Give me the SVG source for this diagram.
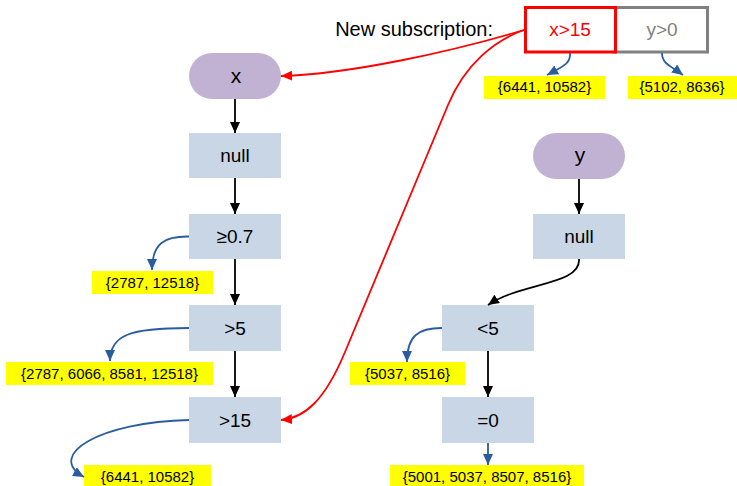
<svg xmlns="http://www.w3.org/2000/svg" width="737" height="486" viewBox="0 0 737 486">
<style>
text{font-family:"Liberation Sans",Arial,sans-serif;}
.pill{fill:#C1B2D3;}
.box{fill:#C8D6E5;}
.lbl{fill:#FFFF00;}
.nt{font-size:19px;text-anchor:middle;fill:#000;}
.pt{font-size:21px;text-anchor:middle;fill:#000;}
.lt{font-size:15px;text-anchor:middle;fill:#000;}
.blk{fill:none;stroke:#000;stroke-width:1.8;marker-end:url(#mb);}
.blu{fill:none;stroke:#2A5CA0;stroke-width:1.8;marker-end:url(#mu);}
.red{fill:none;stroke:#FF0000;stroke-width:1.8;marker-end:url(#mr);}
</style>
<defs>
<marker id="mb" markerUnits="userSpaceOnUse" markerWidth="11" markerHeight="10" refX="11" refY="5" orient="auto"><path d="M0,0 L11,5 L0,10 z" fill="#000"/></marker>
<marker id="mu" markerUnits="userSpaceOnUse" markerWidth="11" markerHeight="10" refX="11" refY="5" orient="auto"><path d="M0,0 L11,5 L0,10 z" fill="#2A5CA0"/></marker>
<marker id="mr" markerUnits="userSpaceOnUse" markerWidth="11" markerHeight="10" refX="11" refY="5" orient="auto"><path d="M0,0 L11,5 L0,10 z" fill="#FF0000"/></marker>
</defs>

<text x="493" y="36" style="font-size:20px;text-anchor:end">New subscription:</text>

<g id="sub-y">
<rect x="614" y="7.5" width="93.5" height="44.5" fill="#fff" stroke="#808080" stroke-width="3"/>
<text x="662" y="36" class="nt" style="fill:#808080">y&gt;0</text>
</g>
<g id="sub-x">
<rect x="525.5" y="7.5" width="90" height="44.5" fill="#fff" stroke="#FF0000" stroke-width="3"/>
<text x="570" y="36" class="nt" style="fill:#FF0000">x&gt;15</text>
</g>

<g id="x"><rect class="pill" x="189" y="53" width="92" height="46" rx="23"/><text class="pt" x="236" y="83">x</text></g>
<g id="x-null"><rect class="box" x="189" y="133" width="92" height="45"/><text class="nt" x="235" y="162">null</text></g>
<g id="x-ge07"><rect class="box" x="189" y="214" width="92" height="45"/><text class="nt" x="235" y="243">≥0.7</text></g>
<g id="x-gt5"><rect class="box" x="189" y="305" width="92" height="46"/><text class="nt" x="235" y="335">&gt;5</text></g>
<g id="x-gt15"><rect class="box" x="189" y="397" width="92" height="46"/><text class="nt" x="235" y="427">&gt;15</text></g>

<g id="y"><rect class="pill" x="533" y="133" width="92" height="46" rx="23"/><text class="pt" x="580" y="162">y</text></g>
<g id="y-null"><rect class="box" x="533" y="214" width="92" height="45"/><text class="nt" x="579" y="243">null</text></g>
<g id="y-lt5"><rect class="box" x="442" y="305" width="92" height="46"/><text class="nt" x="488" y="335">&lt;5</text></g>
<g id="y-eq0"><rect class="box" x="442" y="397" width="92" height="46"/><text class="nt" x="488" y="427">=0</text></g>

<g id="lbl-sx"><rect class="lbl" x="484" y="76" width="121" height="23"/><text class="lt" x="544.5" y="92">{6441, 10582}</text></g>
<g id="lbl-sy"><rect class="lbl" x="628" y="76" width="109" height="23"/><text class="lt" x="682" y="92">{5102, 8636}</text></g>
<g id="lbl-ge07"><rect class="lbl" x="92" y="271" width="121" height="23"/><text class="lt" x="152.5" y="287.5">{2787, 12518}</text></g>
<g id="lbl-gt5"><rect class="lbl" x="6" y="362" width="207" height="23"/><text class="lt" x="109.5" y="378.5">{2787, 6066, 8581, 12518}</text></g>
<g id="lbl-gt15"><rect class="lbl" x="84" y="465" width="127" height="23"/><text class="lt" x="147.5" y="481.5">{6441, 10582}</text></g>
<g id="lbl-lt5"><rect class="lbl" x="350" y="362" width="115" height="23"/><text class="lt" x="407.5" y="378.5">{5037, 8516}</text></g>
<g id="lbl-eq0"><rect class="lbl" x="390" y="465" width="194" height="23"/><text class="lt" x="487" y="481.5">{5001, 5037, 8507, 8516}</text></g>

<g id="connectors">
<path class="blk" d="M235,99 L235,133"/>
<path class="blk" d="M235,178 L235,214"/>
<path class="blk" d="M235,259 L235,305"/>
<path class="blk" d="M235,351 L235,397"/>
<path class="blk" d="M579,179 L579,214"/>
<path class="blk" d="M579,259 C581,285 522,282 488,305"/>
<path class="blk" d="M488,351 L488,397"/>

<path class="blu" d="M189,236.5 C165,236 152,243 152,270"/>
<path class="blu" d="M189,328 C130,328 110,335 110,361"/>
<path class="blu" d="M189,420 C100,422 45,455 84,477"/>
<path class="blu" d="M442,328 C418,328 407,336 407,362"/>
<path class="blu" d="M488,443 L488,465"/>
<path class="blu" d="M570,53 C571,64 562,67 547,75"/>
<path class="blu" d="M662,53 C662,64 671,66 683,75"/>

<path class="red" d="M524,30 C450,52 350,74 281,76"/>
<path class="red" d="M524,30 C495,40 465,64 448,105 L345,352 C325,400 305,418 281,420"/>
</g>
</svg>
